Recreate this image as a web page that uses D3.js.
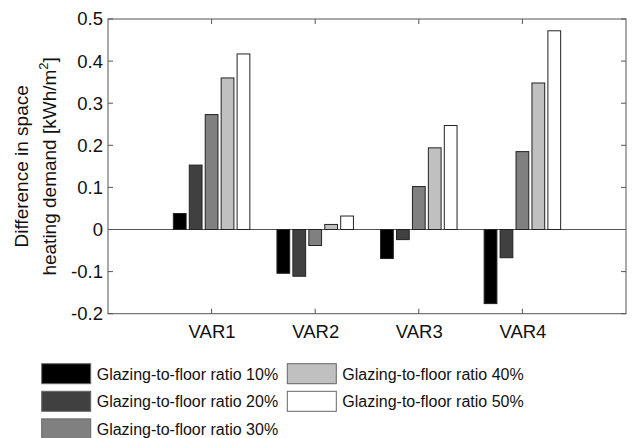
<!DOCTYPE html>
<html><head><meta charset="utf-8">
<script src="https://cdn.jsdelivr.net/npm/d3@7"></script>
<style>body{margin:0;background:#fff;} svg{display:block;font-family:"Liberation Sans",Arial,sans-serif;}</style>
</head><body>
<svg id="c" width="638" height="438"></svg>
<script>
const categories = ["VAR1","VAR2","VAR3","VAR4"];
const seriesNames = ["Glazing-to-floor ratio 10%","Glazing-to-floor ratio 20%","Glazing-to-floor ratio 30%","Glazing-to-floor ratio 40%","Glazing-to-floor ratio 50%"];
const ratio10 = [0.038, -0.104, -0.069, -0.176];
const ratio20 = [0.153, -0.111, -0.024, -0.067];
const ratio30 = [0.273, -0.038, 0.102, 0.185];
const ratio40 = [0.360, 0.012, 0.194, 0.348];
const ratio50 = [0.417, 0.032, 0.247, 0.472];
const yTicks = [-0.2,-0.1,0,0.1,0.2,0.3,0.4,0.5];
const yTickLabels = ["-0.2","-0.1","0","0.1","0.2","0.3","0.4","0.5"];
const colors = ["#000000","#404040","#808080","#c0c0c0","#ffffff"];

const series = [ratio10, ratio20, ratio30, ratio40, ratio50];
const svg = d3.select("#c");
const L = 108, R = 626, T = 19, B = 313.7;
const x = d3.scaleLinear().domain([0,5]).range([L,R]);
const y = d3.scaleLinear().domain([-0.2,0.5]).range([B,T]);
const groupW = (x(1)-x(0))*0.769;
const inner = d3.scaleBand().domain(d3.range(5)).range([-groupW/2, groupW/2]).paddingInner(0.2).paddingOuter(0.1);

// zero line
svg.append("line").attr("x1",L).attr("x2",R).attr("y1",y(0)).attr("y2",y(0)).attr("stroke","#555").attr("stroke-width",1);

// bars
series.forEach((vals, j) => {
  svg.append("g").selectAll("rect").data(vals).enter().append("rect")
    .attr("x", (d,i) => x(i+1) + inner(j))
    .attr("width", inner.bandwidth())
    .attr("y", d => Math.min(y(d), y(0)))
    .attr("height", d => Math.abs(y(d)-y(0)))
    .attr("fill", colors[j])
    .attr("stroke", "#222").attr("stroke-width", 1);
});

// frame
svg.append("rect").attr("x",L).attr("y",T).attr("width",R-L).attr("height",B-T).attr("fill","none").attr("stroke","#555").attr("stroke-width",1);

// axes
const yAxis = d3.axisLeft(y).tickValues(yTicks).tickSize(0).tickPadding(5).tickFormat((d,i) => yTickLabels[i]);
const gy = svg.append("g").attr("transform",`translate(${L},0)`).call(yAxis);
gy.select(".domain").remove();
gy.selectAll("text").attr("font-size",18.5).attr("fill","#111").attr("font-family","Liberation Sans, Arial, sans-serif");

const xAxis = d3.axisBottom(x).tickValues([1,2,3,4]).tickSize(0).tickPadding(11).tickFormat(d => categories[d-1]);
const gx = svg.append("g").attr("transform",`translate(0,${B})`).call(xAxis);
gx.select(".domain").remove();
gx.selectAll("text").attr("font-size",18.5).attr("fill","#111").attr("font-family","Liberation Sans, Arial, sans-serif");

// inner ticks
const tl = 5;
[1,2,3,4].forEach(c => {
  svg.append("line").attr("x1",x(c)).attr("x2",x(c)).attr("y1",B).attr("y2",B-tl).attr("stroke","#555");
  svg.append("line").attr("x1",x(c)).attr("x2",x(c)).attr("y1",T).attr("y2",T+tl).attr("stroke","#555");
});
yTicks.forEach(t => {
  svg.append("line").attr("x1",L).attr("x2",L+tl).attr("y1",y(t)).attr("y2",y(t)).attr("stroke","#555");
  svg.append("line").attr("x1",R).attr("x2",R-tl).attr("y1",y(t)).attr("y2",y(t)).attr("stroke","#555");
});

// y label
const cy = (T+B)/2;
const yl = svg.append("text").attr("transform",`translate(28,${cy}) rotate(-90)`).attr("text-anchor","middle")
  .attr("font-size",19).attr("fill","#111");
yl.text("Difference in space");
const yl2 = svg.append("text").attr("transform",`translate(56,${cy}) rotate(-90)`).attr("text-anchor","middle")
  .attr("font-size",19).attr("fill","#111");
yl2.append("tspan").text("heating demand [kWh/m");
yl2.append("tspan").attr("font-size",13).attr("dy",-8).text("2");
yl2.append("tspan").attr("dy",8).text("]");

// legend
const legPos = [[41.7,363.7],[41.7,391.3],[41.7,418.9],[287.3,363.7],[287.3,391.3]];
seriesNames.forEach((n,j) => {
  const [lx,ly] = legPos[j];
  svg.append("rect").attr("x",lx).attr("y",ly).attr("width",49).attr("height",20)
    .attr("fill",colors[j]).attr("stroke","#666").attr("stroke-width",1);
  svg.append("text").attr("x",lx+55).attr("y",ly+16).attr("font-size",16).attr("fill","#111").text(n);
});
</script>
</body></html>
